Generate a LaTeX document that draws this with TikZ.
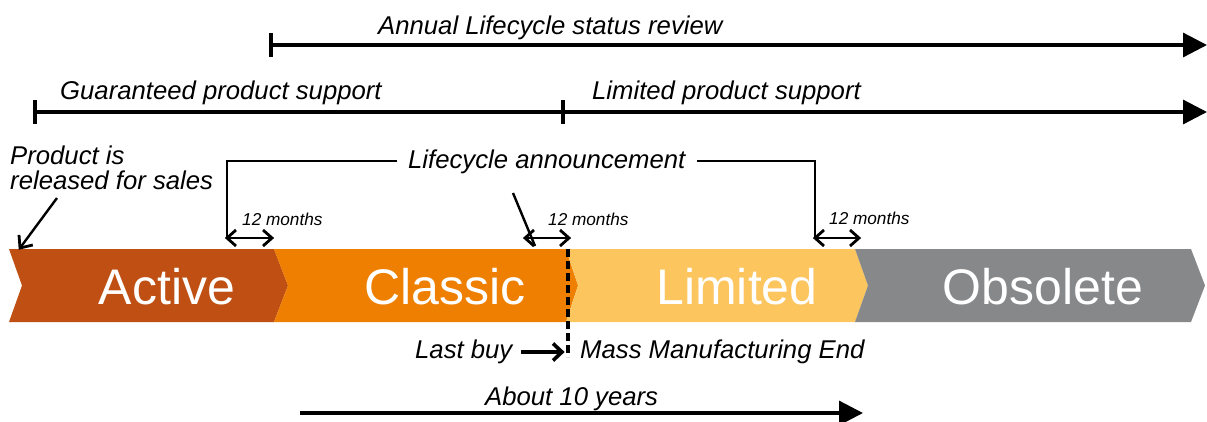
\documentclass[tikz,border=0pt]{standalone}
\usepackage{fontspec}
\setmainfont{Liberation Sans}
\usetikzlibrary{arrows.meta,calc}
\definecolor{cActive}{RGB}{191,79,18}
\definecolor{cClassic}{RGB}{238,127,0}
\definecolor{cLimited}{RGB}{252,197,94}
\definecolor{cObsolete}{RGB}{135,136,138}
\begin{document}
\begin{tikzpicture}[x=1pt,y=-1pt,
  lbl/.style={font=\fontsize{25.7}{30}\selectfont\itshape, inner sep=0pt, anchor=base west},
  small/.style={font=\fontsize{17.2}{20}\selectfont\itshape, inner sep=0pt, anchor=base west},
  phase/.style={font=\fontsize{50}{60}\selectfont, text=white, inner sep=0pt, anchor=base},
  bigarrow/.style={line width=3.3pt, -{Triangle[length=24pt,width=24pt]}},
  tickline/.style={line width=3.3pt},
  thinline/.style={line width=2.4pt},
  barbline/.style={line width=2.8pt, line join=miter},
]
\useasboundingbox (0,0) rectangle (1207,421);

% phases
\fill[cActive] (9,249) -- (274,249) -- (288,285.5) -- (274,322) -- (9,322) -- (22,285.5) -- cycle;
\fill[cClassic] (274,249) -- (566,249) -- (578,285.5) -- (566,322) -- (274,322) -- (288,285.5) -- cycle;
\fill[cLimited] (566,249) -- (855,249) -- (868,285.5) -- (855,322) -- (566,322) -- (578,285.5) -- cycle;
\fill[cObsolete] (855,249) -- (1191,249) -- (1205,285.5) -- (1191,322) -- (855,322) -- (868,285.5) -- cycle;
\node[phase] (tActive) at (167,304) {Active};
\node[phase] (tClassic) at (445,304) {Classic};
\node[phase] (tLimited) at (737,304) {Limited};
\node[phase] (tObsolete) at (1043,304) {Obsolete};

% annual review
\coordinate (a0) at (271,45);
\coordinate (a1) at (1207,45);
\draw[bigarrow] (a0) -- (a1);
\draw[tickline] (271,33) -- (271,57);
\node[lbl] (annual) at (378,34) {Annual Lifecycle status review};

% support
\coordinate (g0) at (35,112);
\coordinate (g1) at (563,112);
\coordinate (g2) at (1207,112);
\draw[tickline] (g0) -- (g1);
\draw[bigarrow] (g1) -- (g2);
\draw[tickline] (35,100) -- (35,124);
\draw[tickline] (563,100) -- (563,124);
\node[lbl] (guar) at (60,99) {Guaranteed product support};
\node[lbl] (limsup) at (592,99) {Limited product support};

% release
\node[lbl] (prod1) at (10,164) {Product is};
\node[lbl] (prod2) at (10,189) {released for sales};
\coordinate (r0) at (57,198);
\coordinate (r1) at (20,248);
\draw[thinline] (r0) -- (r1);
\draw[barbline] ($(r1)+(12.8,-3)$) -- (r1) -- ($(r1)+(-1,-13.1)$);

% lifecycle announcement
\node[lbl] (ann) at (408,168) {Lifecycle announcement};
\coordinate (b1) at (227,238);
\coordinate (b2) at (272,238);
\coordinate (m1) at (525,238);
\coordinate (m2) at (569,238);
\coordinate (c1) at (815,238);
\coordinate (c2) at (859,238);
\draw[thinline] (397,161) -- (227,161) -- (b1);
\draw[thinline] (697,161) -- (815,161) -- (c1);
\draw[thinline] (513,193) -- (535,246);
\foreach \p/\q in {b1/b2, m1/m2, c1/c2} {
  \draw[thinline] (\p) -- (\q);
  \draw[barbline] ($(\p)+(9,-8)$) -- (\p) -- ($(\p)+(9,8)$);
  \draw[barbline] ($(\q)+(-9,-8)$) -- (\q) -- ($(\q)+(-9,8)$);
}
\node[small] (mo1) at (242,225) {12 months};
\node[small] (mo2) at (548,225) {12 months};
\node[small] (mo3) at (829,224) {12 months};

% mass manufacturing end
\coordinate (d0) at (568,249);
\coordinate (d1) at (568,357);
\draw[line width=3.5pt, dash pattern=on 8pt off 4pt] (d0) -- (d1);
\node[lbl] (last) at (415,358) {Last buy};
\coordinate (l0) at (521,352);
\coordinate (l1) at (562,352);
\draw[line width=3.8pt] (l0) -- (l1);
\draw[line width=3.6pt, line join=miter] ($(l1)+(-9,-8.5)$) -- (l1) -- ($(l1)+(-9,8.5)$);
\node[lbl] (mme) at (580,358) {Mass Manufacturing End};

% about 10 years
\node[lbl] (about) at (485,405) {About 10 years};
\coordinate (y0) at (300,413);
\coordinate (y1) at (863,413);
\draw[bigarrow] (y0) -- (y1);
\end{tikzpicture}
\end{document}
